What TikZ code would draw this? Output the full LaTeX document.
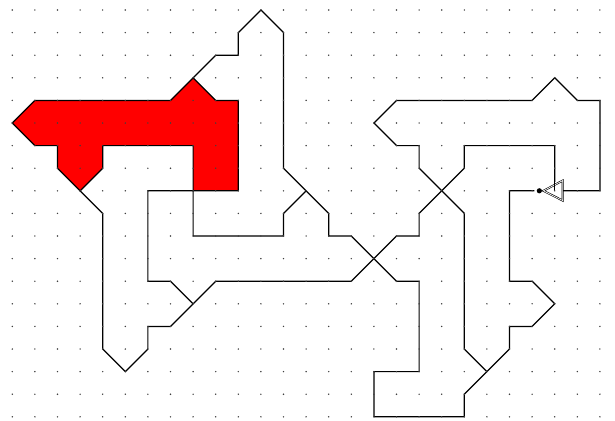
\documentclass[tikz,border=0pt]{standalone}
\begin{document}
\begin{tikzpicture}[x=22.6pt,y=-22.6pt,
  ln/.style={line width=1.2pt, line join=miter, draw=black},
  redfill/.style={fill=red, draw=black, line width=1.2pt},
  griddot/.style={fill=black!75},
  tri/.style={draw=black, line width=0.6pt, double=white, double distance=0.7pt, fill=white},
  startdot/.style={fill=black}]
\useasboundingbox (-0.544,-0.4425) rectangle (26.668,18.142);
% red region
\path[redfill] (0,5) -- (1,4) -- (7,4) -- (8,3) -- (9,4) -- (10,4) -- (10,8) -- (8,8) -- (8,6) -- (4,6) -- (4,7) -- (3,8) -- (2,7) -- (2,6) -- (1,6) -- cycle;
% paths
\draw[ln] (8,3) -- (9,2) -- (10,2) -- (10,1) -- (11,0) -- (12,1) -- (12,7) -- (13,8) -- (14,9) -- (14,10) -- (15,10) -- (16,11) -- (17,12) -- (18,12) -- (18,16) -- (16,16) -- (16,18) -- (20,18) -- (20,17) -- (21,16) -- (22,15) -- (22,14) -- (23,14) -- (24,13) -- (23,12) -- (22,12) -- (22,8) -- (23.1,8);
\draw[ln] (21,16) -- (20,15) -- (20,9) -- (19,8) -- (18,7) -- (18,6) -- (17,6) -- (16,5) -- (17,4) -- (23,4) -- (24,3) -- (25,4) -- (26,4) -- (26,8) -- (24.35,8);
\draw[ln] (3,8) -- (4,9) -- (4,15) -- (5,16) -- (6,15) -- (6,14) -- (7,14) -- (9,12) -- (15,12) -- (16,11) -- (17,10) -- (18,10) -- (18,9) -- (19,8) -- (20,7) -- (20,6) -- (24,6) -- (24,7.6);
\draw[ln] (8,8) -- (6,8) -- (6,12) -- (7,12) -- (8,13);
\draw[ln] (8,8) -- (8,10) -- (12,10) -- (12,9) -- (13,8);
% start marker
\path[tri] (23.5,8) -- (24.35,7.55) -- (24.35,8.43) -- cycle;
\draw[line width=0.6pt] (24,7.6) -- (24,8);
\fill[startdot] (23.32,8) circle (2.6pt);
% dot grid
\foreach \i in {0,...,26} {
  \foreach \j in {0,...,18} {
    \fill[griddot] (\i,\j) circle (0.8pt);
  }
}
\end{tikzpicture}
\end{document}
